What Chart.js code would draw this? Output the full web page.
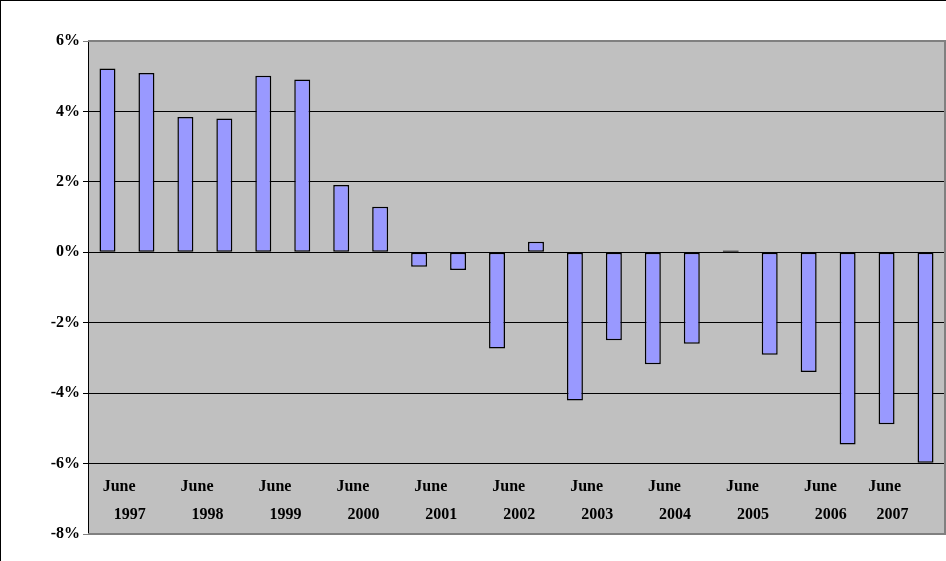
<!DOCTYPE html>
<html>
<head>
<meta charset="utf-8">
<script src="https://cdn.jsdelivr.net/npm/chart.js@4"></script>
<style>
  html, body { margin: 0; padding: 0; background: #fff; }
  #wrap { position: relative; width: 945px; height: 560px; border-top: 1px solid #000; border-left: 1px solid #000; }
</style>
</head>
<body>
<div id="wrap"><canvas id="chart"></canvas></div>
<script>
// Data (percent change)
const categories = ['1997a','1997b','1998a','1998b','1999a','1999b','2000a','2000b','2001a','2001b','2002a','2002b',
                    '2003a','2003b','2004a','2004b','2005a','2005b','2006a','2006b','2007a','2007b'];
const values = [5.22, 5.09, 3.84, 3.8, 5.01, 4.91, 1.91, 1.29, -0.41, -0.5, -2.73, 0.3,
                -4.21, -2.5, -3.18, -2.6, 0.05, -2.91, -3.4, -5.46, -4.88, -5.98];
const yearLabels = ['1997','1998','1999','2000','2001','2002','2003','2004','2005','2006','2007'];

const bgPlugin = {
    id: 'bg',
    beforeDraw(chart) {
        const { ctx, chartArea: a } = chart;
        ctx.save();
        ctx.fillStyle = '#c0c0c0';
        ctx.fillRect(a.left, a.top, a.right - a.left, a.bottom - a.top);
        ctx.restore();
    },
    afterDraw(chart) {
        const { ctx, chartArea: a, scales } = chart;
        ctx.save();
        ctx.strokeStyle = '#808080';
        ctx.lineWidth = 2;
        ctx.beginPath();
        ctx.moveTo(a.left, a.top); ctx.lineTo(a.right, a.top);
        ctx.lineTo(a.right, a.bottom); ctx.lineTo(a.left, a.bottom);
        ctx.stroke();
        ctx.fillStyle = '#000';
        ctx.font = 'bold 16px "Liberation Serif", "Times New Roman", serif';
        ctx.textAlign = 'center';
        ctx.textBaseline = 'middle';
        yearLabels.forEach((yr, i) => {
            const last = i === yearLabels.length - 1;
            const pos = last ? 19.95 : i * 2 + 0.3;
            ctx.fillText('June', scales.x.getPixelForValue(pos), scales.y.getPixelForValue(-6.65));
            ctx.fillText(yr, scales.x.getPixelForValue(pos + (last ? 0.2 : 0.27)), scales.y.getPixelForValue(-7.45));
        });
        ctx.restore();
    }
};

new Chart(document.getElementById('chart'), {
    type: 'bar',
    data: {
        labels: categories,
        datasets: [{
            data: values,
            backgroundColor: '#9999ff',
            borderColor: '#000',
            borderWidth: 1.5,
            borderSkipped: false,
            categoryPercentage: 1,
            barPercentage: 0.41
        }]
    },
    options: {
        responsive: true,
        maintainAspectRatio: false,
        animation: false,
        layout: { padding: { top: 40, right: 1, bottom: 27, left: 0 } },
        plugins: { legend: { display: false }, tooltip: { enabled: false } },
        scales: {
            x: {
                grid: { display: false },
                border: { display: false },
                ticks: { display: false },
                afterFit: (s) => { s.height = 0; }
            },
            y: {
                min: -8, max: 6,
                ticks: {
                    stepSize: 2,
                    color: '#000',
                    font: { family: '"Liberation Serif", serif', size: 16, weight: 'bold' },
                    callback: (v) => v + '%'
                },
                grid: { color: (c) => (c.tick.value === 6 || c.tick.value === -8) ? '#808080' : '#000', lineWidth: 1, tickLength: 5 },
                border: { color: '#000' },
                afterFit: (s) => { s.width = 87; }
            }
        }
    },
    plugins: [bgPlugin]
});
</script>
</body>
</html>
